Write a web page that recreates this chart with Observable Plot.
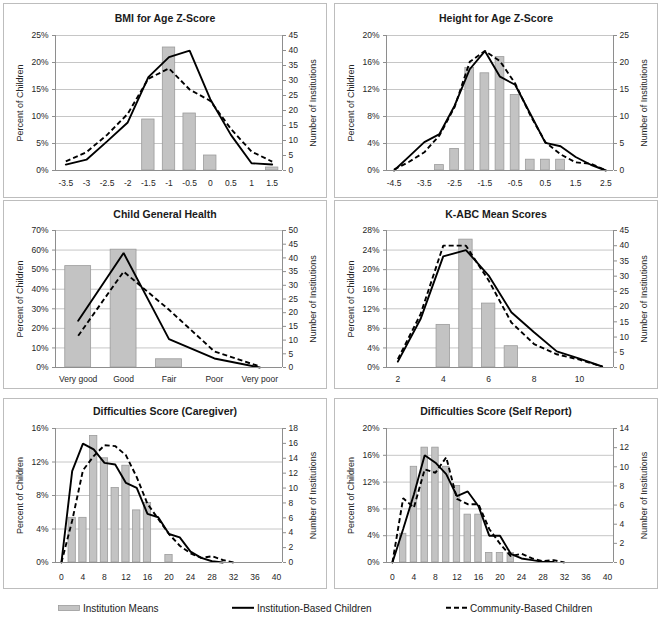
<!DOCTYPE html>
<html>
<head>
<meta charset="utf-8">
<script src="https://cdn.jsdelivr.net/npm/d3@7"></script>
<script src="https://cdn.jsdelivr.net/npm/@observablehq/plot@0.6"></script>
<style>
  body { margin: 0; background: #fff; font-family: "Liberation Sans", Arial, sans-serif; }
  #root { position: relative; width: 662px; height: 618px; overflow: hidden; background: #fff; }
  .panel { position: absolute; box-sizing: border-box; border: 1px solid #bdbdbd; background: #fff; }
  .panel .title { position: absolute; left: 0; right: 0; height: 14px; line-height: 14px; text-align: center;
                  font-weight: bold; font-size: 10.5px; color: #1a1a1a; }
  .panel svg { position: absolute; left: 0; }
  .leg { position: absolute; font-size: 10px; color: #222; line-height: 12px; white-space: nowrap; }
  .legsw { position: absolute; }
</style>
</head>
<body>
<div id="root"></div>
<script>
// ---------------- DATA ----------------
const seriesNames = ["Institution Means", "Institution-Based Children", "Community-Based Children"];
const leftAxisTitle = "Percent of Children";
const rightAxisTitle = "Number of Institutions";

// Panel 1: BMI for Age Z-Score
const bmiTitle = "BMI for Age Z-Score";
const bmiX = [-3.5, -3, -2.5, -2, -1.5, -1, -0.5, 0, 0.5, 1, 1.5];
const bmiInst = [1.1, 2.0, 5.4, 8.9, 17.3, 21.0, 22.2, 13.2, 6.6, 1.35, 1.1];
const bmiComm = [1.7, 3.4, 6.6, 10.5, 17.0, 18.9, 15.0, 12.9, 7.7, 3.5, 1.65];
const bmiBarX = [-1.5, -1, -0.5, 0, 1.5];
const bmiBarN = [17, 41, 19, 5, 1];
const bmiXTicks = [-3.5, -3, -2.5, -2, -1.5, -1, -0.5, 0, 0.5, 1, 1.5];
const bmiYTicks = [0, 5, 10, 15, 20, 25];
const bmiRTicks = [0, 5, 10, 15, 20, 25, 30, 35, 40, 45];

// Panel 2: Height for Age Z-Score
const hgtTitle = "Height for Age Z-Score";
const hgtX = [-4.5, -4, -3.5, -3, -2.5, -2, -1.5, -1, -0.5, 0, 0.5, 1, 1.5, 2, 2.5];
const hgtInst = [0, 2.1, 4.2, 5.4, 9.6, 15.0, 17.7, 13.9, 12.7, 8.4, 4.1, 3.6, 2.0, 0.85, 0];
const hgtComm = [0.15, 1.3, 2.7, 5.2, 9.4, 16.1, 17.7, 16.2, 12.9, 8.2, 4.2, 2.4, 1.2, 1.0, 0];
const hgtBarX = [-3, -2.5, -2, -1.5, -1, -0.5, 0, 0.5, 1];
const hgtBarN = [1, 4, 19, 18, 21, 14, 2, 2, 2];
const hgtXTicks = [-4.5, -3.5, -2.5, -1.5, -0.5, 0.5, 1.5, 2.5];
const hgtYTicks = [0, 4, 8, 12, 16, 20];
const hgtRTicks = [0, 5, 10, 15, 20, 25];

// Panel 3: Child General Health
const healthTitle = "Child General Health";
const healthCats = ["Very good", "Good", "Fair", "Poor", "Very poor"];
const healthInst = [23.9, 58.5, 14.5, 4.6, 0];
const healthComm = [16.2, 49.0, 29.5, 8.2, 0.5];
const healthBarCats = ["Very good", "Good", "Fair"];
const healthBarN = [37, 43, 3];
const healthYTicks = [0, 10, 20, 30, 40, 50, 60, 70];
const healthRTicks = [0, 5, 10, 15, 20, 25, 30, 35, 40, 45, 50];

// Panel 4: K-ABC Mean Scores
const kabcTitle = "K-ABC Mean Scores";
const kabcX = [2, 3, 4, 5, 6, 7, 8, 9, 10, 11];
const kabcInst = [1.2, 9.9, 22.7, 24.0, 18.8, 11.3, 7.2, 3.3, 1.8, 0.2];
const kabcComm = [1.7, 10.9, 24.9, 24.9, 17.8, 9.2, 4.8, 2.7, 1.6, 0.2];
const kabcBarX = [4, 5, 6, 7];
const kabcBarN = [14, 42, 21, 7];
const kabcXTicks = [2, 4, 6, 8, 10];
const kabcYTicks = [0, 4, 8, 12, 16, 20, 24, 28];
const kabcRTicks = [0, 5, 10, 15, 20, 25, 30, 35, 40, 45];

// Panel 5: Difficulties Score (Caregiver)
const cgTitle = "Difficulties Score (Caregiver)";
const cgInstX = [0, 2, 4, 6, 8, 10, 12, 14, 16, 18, 20, 22, 24, 26, 28, 30];
const cgInst = [0, 10.9, 14.2, 13.5, 11.9, 11.7, 9.5, 8.9, 5.8, 5.4, 3.4, 3.0, 1.3, 0.55, 0.15, 0];
const cgCommX = [0, 2, 4, 6, 8, 10, 12, 14, 16, 18, 20, 22, 24, 26, 28, 30, 32];
const cgComm = [0, 5.0, 11.0, 12.7, 14.0, 13.9, 12.8, 10.2, 7.0, 5.2, 3.4, 2.0, 1.1, 0.55, 0.75, 0.3, 0];
const cgBarX = [2, 4, 6, 8, 10, 12, 14, 16, 20];
const cgBarN = [6, 6, 17, 14, 10, 13, 7, 8, 1];
const cgXTicks = [0, 4, 8, 12, 16, 20, 24, 28, 32, 36, 40];
const cgYTicks = [0, 4, 8, 12, 16];
const cgRTicks = [0, 2, 4, 6, 8, 10, 12, 14, 16, 18];

// Panel 6: Difficulties Score (Self Report)
const srTitle = "Difficulties Score (Self Report)";
const srInstX = [0, 2, 4, 6, 8, 10, 12, 14, 16, 18, 20, 22, 24, 26, 28, 30];
const srInst = [0, 5.0, 10.2, 16.0, 14.9, 13.2, 9.9, 10.6, 8.4, 4.0, 4.0, 1.3, 0.6, 0.35, 0.1, 0.1];
const srCommX = [0, 2, 4, 6, 8, 10, 12, 14, 16, 18, 20, 22, 24, 26, 28, 30, 32];
const srComm = [0, 9.6, 8.2, 13.9, 13.4, 15.7, 9.5, 8.7, 8.7, 5.0, 2.8, 0.95, 1.3, 0.6, 0.2, 0.35, 0];
const srBarX = [2, 4, 6, 8, 10, 12, 14, 16, 18, 20, 22];
const srBarN = [3, 10, 12, 12, 10, 8, 5, 5, 1, 1, 1];
const srXTicks = [0, 4, 8, 12, 16, 20, 24, 28, 32, 36, 40];
const srYTicks = [0, 4, 8, 12, 16, 20];
const srRTicks = [0, 2, 4, 6, 8, 10, 12, 14];

// ---------------- DRAWING ----------------
const FONT = "'Liberation Sans', Arial, sans-serif";
const root = document.getElementById("root");
const catIndex = c => healthCats.indexOf(c);

const rows = [
  {top: 3,   h: 195, titleTop: 7, svgTop: 22, mt: 9, mb: 27, tp: 9.5},
  {top: 200, h: 189, titleTop: 6, svgTop: 20, mt: 9, mb: 21, tp: 8.5},
  {top: 398, h: 191, titleTop: 5, svgTop: 20, mt: 9, mb: 26, tp: 11}
];
const cols = [3, 334];

const panels = [
  {row: 0, col: 0, title: bmiTitle, dom: [-3.75, 1.75], bw: 0.3,
   instX: bmiX, inst: bmiInst, commX: bmiX, comm: bmiComm, barX: bmiBarX, barN: bmiBarN,
   xTicks: bmiXTicks, xFmt: d => String(d), yTicks: bmiYTicks, rTicks: bmiRTicks},
  {row: 0, col: 1, title: hgtTitle, dom: [-4.75, 2.75], bw: 0.29,
   instX: hgtX, inst: hgtInst, commX: hgtX, comm: hgtComm, barX: hgtBarX, barN: hgtBarN,
   xTicks: hgtXTicks, xFmt: d => String(d), yTicks: hgtYTicks, rTicks: hgtRTicks},
  {row: 1, col: 0, title: healthTitle, dom: [-0.5, 4.5], bw: 0.57,
   instX: healthCats.map(catIndex), inst: healthInst, commX: healthCats.map(catIndex), comm: healthComm,
   barX: healthBarCats.map(catIndex), barN: healthBarN,
   xTicks: healthCats.map(catIndex), xFmt: i => healthCats[i], yTicks: healthYTicks, rTicks: healthRTicks},
  {row: 1, col: 1, title: kabcTitle, dom: [1.5, 11.5], bw: 0.59,
   instX: kabcX, inst: kabcInst, commX: kabcX, comm: kabcComm, barX: kabcBarX, barN: kabcBarN,
   xTicks: kabcXTicks, xFmt: d => String(d), yTicks: kabcYTicks, rTicks: kabcRTicks},
  {row: 2, col: 0, title: cgTitle, dom: [-1.1, 41.1], bw: 1.36,
   instX: cgInstX, inst: cgInst, commX: cgCommX, comm: cgComm, barX: cgBarX, barN: cgBarN,
   xTicks: cgXTicks, xFmt: d => String(d), yTicks: cgYTicks, rTicks: cgRTicks},
  {row: 2, col: 1, title: srTitle, dom: [-1.1, 41.1], bw: 1.2,
   instX: srInstX, inst: srInst, commX: srCommX, comm: srComm, barX: srBarX, barN: srBarN,
   xTicks: srXTicks, xFmt: d => String(d), yTicks: srYTicks, rTicks: srRTicks}
];

for (const p of panels) {
  const r = rows[p.row];
  const div = document.createElement("div");
  div.className = "panel";
  div.style.left = cols[p.col] + "px";
  div.style.top = r.top + "px";
  div.style.width = "324px";
  div.style.height = r.h + "px";
  const t = document.createElement("div");
  t.className = "title";
  t.style.top = r.titleTop + "px";
  t.textContent = p.title;
  div.appendChild(t);

  const yMax = p.yTicks[p.yTicks.length - 1];
  const rMax = p.rTicks[p.rTicks.length - 1];
  const k = yMax / rMax;
  const inst = p.instX.map((x, i) => ({x, v: p.inst[i]}));
  const comm = p.commX.map((x, i) => ({x, v: p.comm[i]}));
  const bars = p.barX.map((x, i) => ({x, n: p.barN[i]}));
  const svgH = r.h - 2 - r.svgTop;

  const chart = Plot.plot({
    width: 322,
    height: svgH,
    marginLeft: 51,
    marginRight: 44,
    marginTop: r.mt,
    marginBottom: r.mb,
    style: {fontFamily: FONT, fontSize: "8.5px", color: "#262626", background: "transparent", overflow: "visible"},
    x: {domain: p.dom},
    y: {domain: [0, yMax]},
    marks: [
      Plot.ruleY(p.yTicks.filter(v => v > 0), {stroke: "#c6c6c6", strokeWidth: 1}),
      Plot.rect(bars, {x1: d => d.x - p.bw / 2, x2: d => d.x + p.bw / 2, y1: 0, y2: d => d.n * k,
                       fill: "#c3c3c3", stroke: "#9c9c9c", strokeWidth: 0.8}),
      Plot.line(comm, {x: "x", y: "v", stroke: "#000", strokeWidth: 1.9, strokeDasharray: "5,3",
                       strokeLinecap: "butt", strokeLinejoin: "miter"}),
      Plot.line(inst, {x: "x", y: "v", stroke: "#000", strokeWidth: 1.9, strokeLinejoin: "miter"}),
      Plot.ruleX([p.dom[0], p.dom[1]], {stroke: "#8e8e8e", strokeWidth: 1}),
      Plot.ruleY([0], {stroke: "#8e8e8e", strokeWidth: 1}),
      Plot.axisY({anchor: "left", ticks: p.yTicks, tickSize: 3, tickPadding: 4, stroke: "#8e8e8e",
                  tickFormat: d => d + "%", label: null, fontSize: 8.5}),
      Plot.axisY({anchor: "right", ticks: p.rTicks.map(v => v * k), tickSize: 3, tickPadding: 3, stroke: "#8e8e8e",
                  tickFormat: d => String(Math.round(d / k)), label: null, fontSize: 8.5}),
      Plot.axisX({anchor: "bottom", ticks: p.xTicks, tickSize: 0, tickPadding: r.tp,
                  tickFormat: p.xFmt, label: null, fontSize: 8.5}),
      Plot.text([leftAxisTitle], {frameAnchor: "left", rotate: -90, dx: -35, textAnchor: "middle",
                                  fontSize: 9, fill: "#262626"}),
      Plot.text([rightAxisTitle], {frameAnchor: "right", rotate: -90, dx: 31, textAnchor: "middle",
                                   fontSize: 9, fill: "#262626"})
    ]
  });
  chart.style.top = r.svgTop + "px";
  div.appendChild(chart);
  root.appendChild(div);
}

// ---------------- LEGEND ----------------
const NS = "http://www.w3.org/2000/svg";
function swatch(left, kind) {
  const s = document.createElementNS(NS, "svg");
  s.setAttribute("width", 24); s.setAttribute("height", 10);
  s.setAttribute("class", "legsw");
  s.style.left = left + "px"; s.style.top = "603px";
  if (kind === "bar") {
    const r = document.createElementNS(NS, "rect");
    r.setAttribute("x", 0.5); r.setAttribute("y", 2.5); r.setAttribute("width", 21); r.setAttribute("height", 5);
    r.setAttribute("fill", "#c3c3c3"); r.setAttribute("stroke", "#9c9c9c"); r.setAttribute("stroke-width", 0.8);
    s.appendChild(r);
  } else {
    const l = document.createElementNS(NS, "line");
    l.setAttribute("x1", 0); l.setAttribute("x2", 22); l.setAttribute("y1", 4.8); l.setAttribute("y2", 4.8);
    l.setAttribute("stroke", "#000"); l.setAttribute("stroke-width", 2);
    if (kind === "dash") l.setAttribute("stroke-dasharray", "5,3");
    s.appendChild(l);
  }
  root.appendChild(s);
}
function legText(left, txt) {
  const d = document.createElement("div");
  d.className = "leg"; d.style.left = left + "px"; d.style.top = "603px";
  d.textContent = txt; root.appendChild(d);
}
swatch(58, "bar");  legText(83, seriesNames[0]);
swatch(232, "solid"); legText(257, seriesNames[1]);
swatch(446, "dash");  legText(470, seriesNames[2]);
</script>
</body>
</html>
